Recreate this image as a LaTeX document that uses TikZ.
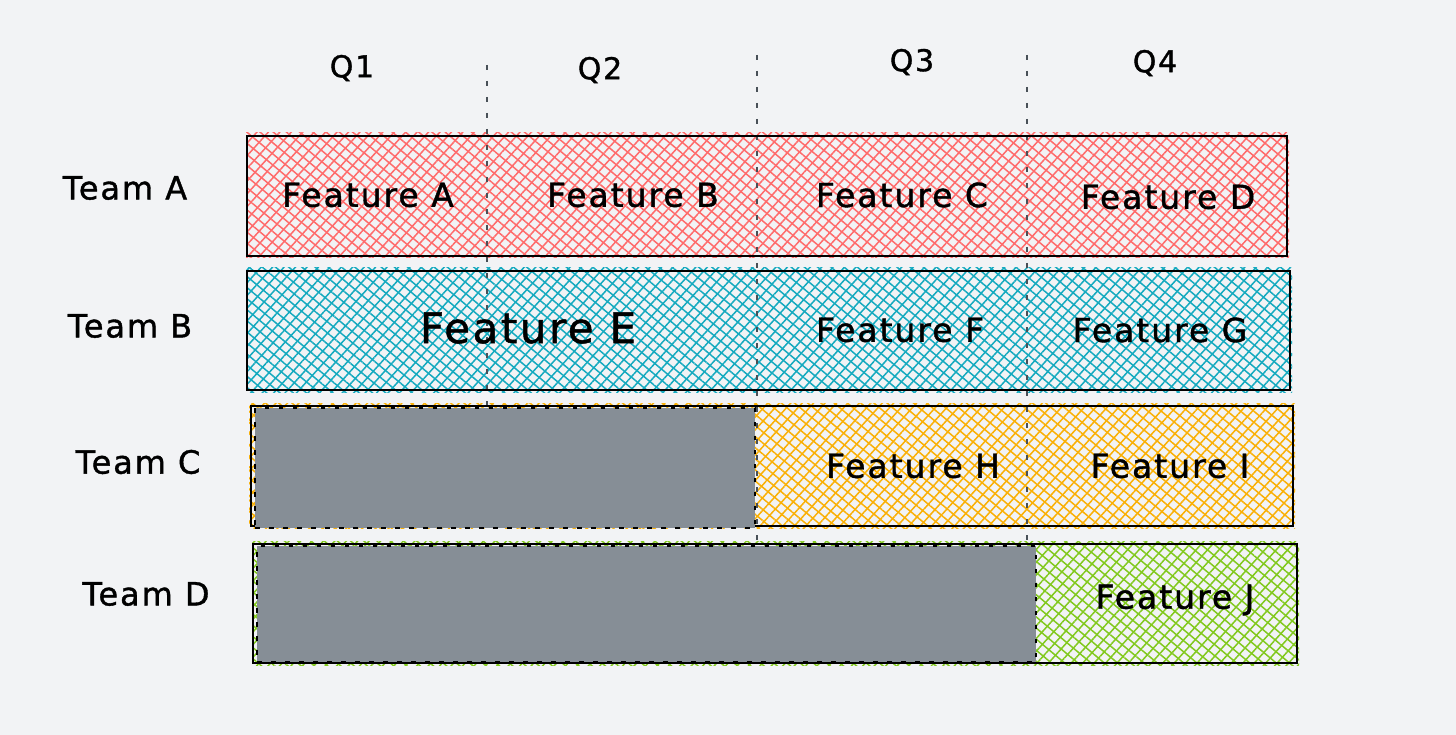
\documentclass[tikz,border=0pt]{standalone}
\usepackage{fontspec}
\setmainfont{DejaVu Sans}[LetterSpace=6,FakeBold=1.2]
\usetikzlibrary{patterns.meta,backgrounds}
\definecolor{bg}{HTML}{F2F3F5}
\definecolor{hred}{HTML}{FF6B6B}
\definecolor{hcyan}{HTML}{15AABF}
\definecolor{horange}{HTML}{FAB005}
\definecolor{hgreen}{HTML}{82C91E}
\definecolor{boxgray}{HTML}{868E96}
\definecolor{guide}{HTML}{495057}
\tikzset{
  rowbox/.style={draw=black, line width=2.4pt, inner sep=0pt, outer sep=0pt},
  hatch/.style={preaction={pattern={Lines[angle=48,distance=8.5pt,line width=1.5pt]}, pattern color=#1},
    preaction={pattern={Lines[angle=-40,distance=8.5pt,line width=1.5pt]}, pattern color=#1}},
  graybox/.style={fill=boxgray, draw=black, line width=2.6pt, dash pattern=on 4.5pt off 9.5pt, inner sep=0pt, outer sep=0pt},
  guideline/.style={draw=guide, line width=2pt, dash pattern=on 5pt off 11pt},
  feat/.style={font=\fontsize{33}{38}\selectfont, text=black},
  bigfeat/.style={font=\fontsize{42}{48}\selectfont, text=black},
  team/.style={font=\fontsize{32}{38}\selectfont, text=black},
  qlabel/.style={font=\fontsize{30}{36}\selectfont, text=black}
}
\begin{document}
\begin{tikzpicture}[x=1pt,y=-1pt]
\useasboundingbox (0,0) rectangle (1456,735);

% guide lines
\coordinate (g1t) at (487,65);  \coordinate (g1b) at (487,405);
\coordinate (g2t) at (757,55);  \coordinate (g2b) at (757,542);
\coordinate (g3t) at (1027,55); \coordinate (g3b) at (1027,540);

% rows
\node[rowbox, minimum width=1040pt, minimum height=120pt] (rowA) at (767,196) {};
\node[rowbox, minimum width=1043pt, minimum height=119pt] (rowB) at (768.5,330.5) {};
\node[rowbox, minimum width=1042pt, minimum height=120pt] (rowC) at (772,466) {};
\node[rowbox, minimum width=1044pt, minimum height=119pt] (rowD) at (775,603.5) {};

\begin{scope}[on background layer]
\fill[bg] (0,0) rectangle (1456,735);
\path[hatch=hred] ([shift={(-1,-3)}]rowA.north west) rectangle ([shift={(2,2)}]rowA.south east);
\path[hatch=hcyan] ([shift={(-1,-3)}]rowB.north west) rectangle ([shift={(2,2)}]rowB.south east);
\path[hatch=horange] ([shift={(-2,-3)}]rowC.north west) rectangle ([shift={(2,2)}]rowC.south east);
\path[hatch=hgreen] ([shift={(-1,-3)}]rowD.north west) rectangle ([shift={(2,2)}]rowD.south east);
\draw[guideline] (g1t) -- (g1b);
\draw[guideline] (g2t) -- (g2b);
\draw[guideline] (g3t) -- (g3b);
\end{scope}

\node[graybox, minimum width=500pt, minimum height=120pt] (grayC) at (505,468) {};
\node[graybox, minimum width=779pt, minimum height=116pt] (grayD) at (646.5,604) {};

% quarter labels
\node[qlabel] (q1) at (352,68) {Q1};
\node[qlabel] (q2) at (600,70) {Q2};
\node[qlabel] (q3) at (912,62) {Q3};
\node[qlabel] (q4) at (1155,63) {Q4};

% team labels
\node[team] (ta) at (125,188) {Team A};
\node[team] (tb) at (130,326) {Team B};
\node[team] (tc) at (138,462) {Team C};
\node[team] (td) at (146,594) {Team D};

% features
\node[feat] (fa) at (368,195) {Feature A};
\node[feat] (fb) at (633,195) {Feature B};
\node[feat] (fc) at (902,195) {Feature C};
\node[feat] (fd) at (1168,197) {Feature D};
\node[bigfeat] (fe) at (528,328) {Feature E};
\node[feat] (ff) at (900,330) {Feature F};
\node[feat] (fg) at (1160,330) {Feature G};
\node[feat] (fh) at (913,466) {Feature H};
\node[feat] (fi) at (1170,466) {Feature I};
\node[feat] (fj) at (1175,600) {Feature J};
\end{tikzpicture}
\end{document}
